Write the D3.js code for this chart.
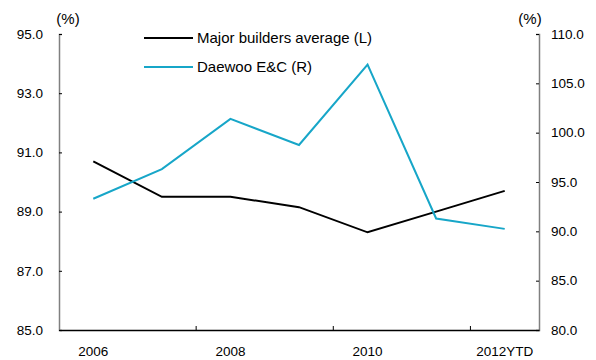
<!DOCTYPE html>
<html>
<head>
<meta charset="utf-8">
<script src="https://cdn.jsdelivr.net/npm/d3@7"></script>
<style>
  body { margin: 0; background: #fff; }
  text { font-family: "Liberation Sans", Arial, sans-serif; font-size: 13px; fill: #000; }
</style>
</head>
<body>
<svg id="chart" width="596" height="360"></svg>
<script>
// categories and series
const years = ["2006", "2007", "2008", "2009", "2010", "2011", "2012YTD"];
const yearLabels = ["2006", "", "2008", "", "2010", "", "2012YTD"];
const majorAvg = [90.7, 89.5, 89.5, 89.15, 88.3, 89.0, 89.7];   // left axis
const daewoo = [93.3, 96.3, 101.4, 98.75, 106.9, 91.3, 90.25];  // right axis
const leftTicks = [85, 87, 89, 91, 93, 95];
const rightTicks = [80, 85, 90, 95, 100, 105, 110];

const svg = d3.select("#chart");
const plotL = 59, plotR = 539, plotT = 34, plotB = 330;

const x = d3.scaleBand().domain(years).range([plotL, plotR]);
const yL = d3.scaleLinear().domain([85, 95]).range([plotB, plotT]);
const yR = d3.scaleLinear().domain([80, 110]).range([plotB, plotT]);

// left axis
const gL = svg.append("g").attr("transform", `translate(${plotL},0)`)
  .call(d3.axisRight(yL).tickValues(leftTicks).tickFormat(d3.format(".1f")).tickSize(3));
gL.select(".domain").attr("stroke", "#808080").attr("stroke-width", 1.5);
gL.selectAll(".tick line").attr("stroke", "#000");
gL.selectAll(".tick text").attr("text-anchor", "end").attr("x", -16).style("font-size", "13.5px");

// right axis
const gR = svg.append("g").attr("transform", `translate(${plotR},0)`)
  .call(d3.axisLeft(yR).tickValues(rightTicks).tickFormat(d3.format(".1f")).tickSize(3));
gR.select(".domain").attr("stroke", "#808080").attr("stroke-width", 1.5);
gR.selectAll(".tick line").attr("stroke", "#000");
gR.selectAll(".tick text").attr("text-anchor", "start").attr("x", 12).style("font-size", "13.5px");

// bottom axis, ticks between every second category
const gB = svg.append("g").attr("transform", `translate(0,${plotB})`)
  .call(d3.axisBottom(x).tickFormat((d, i) => yearLabels[i]).tickSize(0).tickPadding(16));
gB.select(".domain").attr("stroke", "#000").attr("stroke-width", 1.5);
gB.selectAll(".tick text").style("font-size", "13.5px");
[2, 4, 6].forEach(i => {
  const bx = x(years[i]);
  gB.append("line").attr("x1", bx).attr("x2", bx).attr("y1", 0).attr("y2", -4).attr("stroke", "#000");
});

// unit labels
svg.append("text").attr("x", 68).attr("y", 24).attr("text-anchor", "middle").style("font-size", "15px").text("(%)");
svg.append("text").attr("x", 530).attr("y", 24).attr("text-anchor", "middle").style("font-size", "15px").text("(%)");

const cx = d => x(d) + x.bandwidth() / 2;

svg.append("path").datum(majorAvg)
  .attr("fill", "none").attr("stroke", "#000").attr("stroke-width", 2)
  .attr("d", d3.line().x((d, i) => cx(years[i])).y(d => yL(d)));

svg.append("path").datum(daewoo)
  .attr("fill", "none").attr("stroke", "#17a6c8").attr("stroke-width", 2)
  .attr("d", d3.line().x((d, i) => cx(years[i])).y(d => yR(d)));

// legend
const legend = [
  { name: "Major builders average (L)", color: "#000", y: 38 },
  { name: "Daewoo E&C (R)", color: "#17a6c8", y: 67 }
];
legend.forEach(l => {
  svg.append("line").attr("x1", 144).attr("x2", 193).attr("y1", l.y).attr("y2", l.y)
    .attr("stroke", l.color).attr("stroke-width", 2);
  svg.append("text").attr("x", 197).attr("y", l.y + 5).style("font-size", "15px").text(l.name);
});
</script>
</body>
</html>
